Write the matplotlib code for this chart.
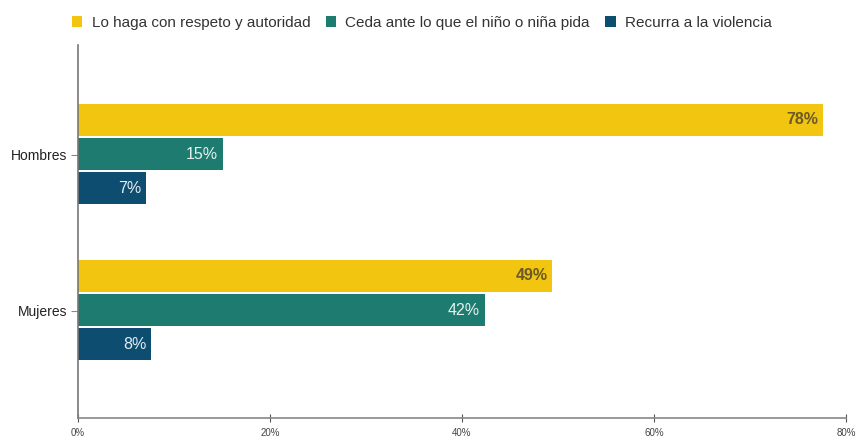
import matplotlib.pyplot as plt
import numpy as np

grupos = ["Hombres", "Mujeres"]
series = ["Lo haga con respeto y autoridad",
          "Ceda ante lo que el niño o niña pida",
          "Recurra a la violencia"]
respeto = [77.6, 49.4]
cede = [15.1, 42.4]
violencia = [7.1, 7.6]
xticks = [0, 20, 40, 60, 80]

colores = ["#f2c511", "#1d7c6f", "#0d4d70"]
color_txt = ["#6b5a25", "#e3f1ee", "#e3ecf2"]

plt.rcParams['font.family'] = ['Liberation Sans', 'DejaVu Sans']

fig = plt.figure(figsize=(8.57, 4.41), dpi=100)
ax = fig.add_axes([78 / 857, 23 / 441, 768 / 857, 373 / 441])

y = np.arange(len(grupos))
alto = 0.205
offsets = [-0.225, -0.005, 0.213]
valores = [respeto, cede, violencia]

for i, (vals, off) in enumerate(zip(valores, offsets)):
    barras = ax.barh(y + off, vals, height=alto, color=colores[i], label=series[i])
    for b, v in zip(barras, vals):
        ax.text(v - 0.5, b.get_y() + b.get_height() / 2, f"{v:.0f}%",
                ha='right', va='center', fontsize=11.5, color=color_txt[i],
                fontweight='bold' if i == 0 else 'normal')

ax.set_xlim(0, 80)
ax.set_ylim(1.686, -0.705)
ax.set_yticks(y)
ax.set_yticklabels(grupos, fontsize=10, color='#222222')
ax.set_xticks(xticks)
ax.set_xticklabels([f"{t}%" for t in xticks], fontsize=7, color='#444444',
                   family=['Liberation Sans Narrow', 'Liberation Sans'])
ax.tick_params(axis='x', direction='inout', length=6, width=0.8, color='#555555', pad=4)
ax.tick_params(axis='y', length=5, width=0.8, color='#888888', pad=3)

for s in ['top', 'right']:
    ax.spines[s].set_visible(False)
ax.spines['left'].set_color('#777777')
ax.spines['bottom'].set_color('#888888')
ax.spines['left'].set_linewidth(1.2)
ax.spines['bottom'].set_linewidth(1.2)

fig.legend(loc='upper left', bbox_to_anchor=(58 / 857, 1 - 2 / 441), ncol=3,
           frameon=False, fontsize=11, handlelength=0.7, handleheight=0.7,
           handletextpad=0.6, columnspacing=1.0, labelcolor='#333333')

fig.savefig("out.png", dpi=100)
